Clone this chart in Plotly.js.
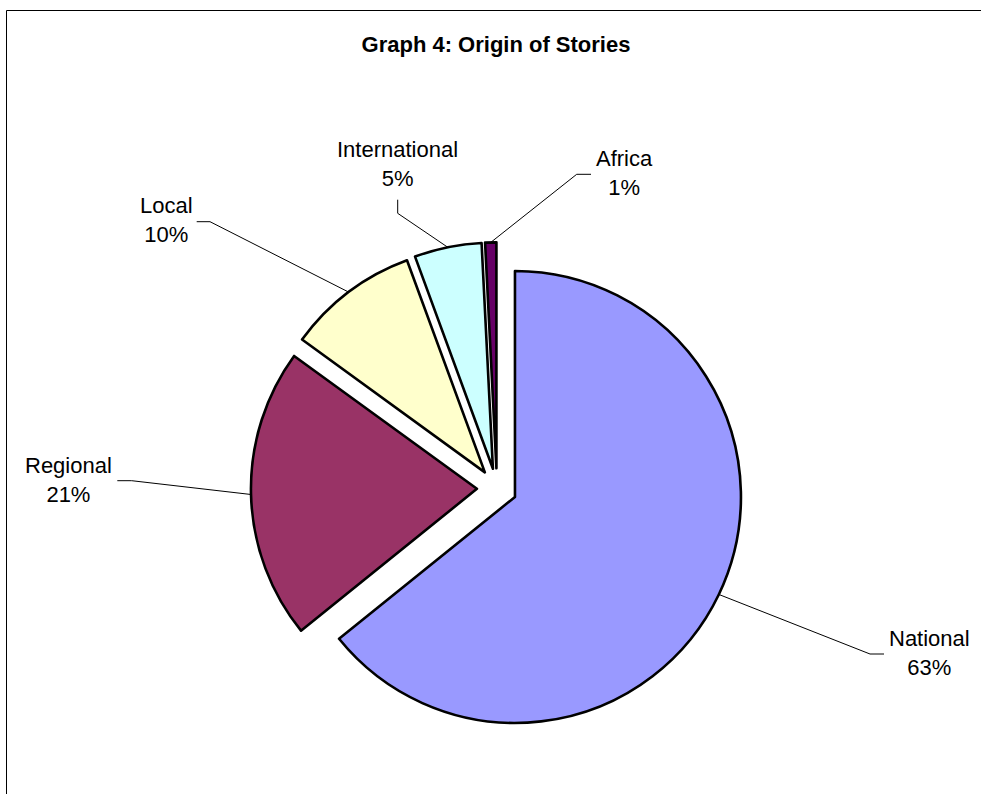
<!DOCTYPE html>
<html><head><meta charset="utf-8">
<script src="https://cdn.plot.ly/plotly-3.0.1.min.js"></script>
<style>html,body{margin:0;padding:0;background:#fff}#chart{width:981px;height:794px}</style>
</head><body><div id="chart"></div>
<script>
// ---- data ----
const categories = ['National', 'Regional', 'Local', 'International', 'Africa'];
const shares = [64.2, 20.8, 9.4, 4.8, 0.8];          // slice sizes as drawn
const shareLabels = ['63%', '21%', '10%', '5%', '1%']; // label text as printed
const colors = ['#9999FF', '#993366', '#FFFFCC', '#CCFFFF', '#660066'];

// ---- layout constants ----
const W = 981, H = 794;
const PULL = 0.0885;
const dom = {x: [0.2558, 0.7573], y: [0.0752, 0.6948]};
const FONT = 'Liberation Sans, Arial, sans-serif';
// label centres (px) and leader-line elbow/end points (px)
const labelPos = [[929, 653], [68, 480], [166, 220], [397, 164], [624, 173]];
const leaderTail = [
  [[870, 654], [884, 654]],
  [[131.7, 480.7], [117.3, 480.7]],
  [[210, 221.7], [196.7, 221.7]],
  [[397.7, 213.3], [397.7, 199.7]],
  [[576.7, 174.3], [591, 174.3]]
];

const px = x => x / W, py = y => 1 - y / H;

// geometry of the pie from its domain, to attach leader lines to slice middles
const cx = W * (dom.x[0] + dom.x[1]) / 2;
const cy = H * (1 - (dom.y[0] + dom.y[1]) / 2);
const Rout = Math.min(W * (dom.x[1] - dom.x[0]), H * (dom.y[1] - dom.y[0])) / 2; // r*(1+pull)
const total = shares.reduce((a, b) => a + b, 0);

const shapes = [{
  type: 'rect', xref: 'paper', yref: 'paper',
  x0: px(6.5), x1: 1.02, y0: py(10.5), y1: -0.02,
  line: {color: '#000', width: 1}, fillcolor: 'rgba(0,0,0,0)'
}];
const annotations = [];
let cum = 0;
categories.forEach((c, i) => {
  const mid = (cum + shares[i] / 2) / total * 2 * Math.PI;
  cum += shares[i];
  const ax = cx + Rout * Math.sin(mid), ay = cy - Rout * Math.cos(mid);
  const [e, t] = leaderTail[i];
  shapes.push({
    type: 'path', xref: 'paper', yref: 'paper',
    path: `M ${px(ax)} ${py(ay)} L ${px(e[0])} ${py(e[1])} L ${px(t[0])} ${py(t[1])}`,
    line: {color: '#000', width: 1}
  });
  annotations.push({
    xref: 'paper', yref: 'paper', x: px(labelPos[i][0]), y: py(labelPos[i][1]),
    xanchor: 'center', yanchor: 'middle', showarrow: false, align: 'center',
    text: c + '<br>' + shareLabels[i],
    font: {family: FONT, size: 22, color: '#000'}
  });
});

const trace = {
  type: 'pie', labels: categories, values: shares,
  sort: false, direction: 'clockwise', rotation: 0,
  pull: PULL, domain: dom,
  marker: {colors: colors, line: {color: '#000', width: 2.6}},
  textinfo: 'none', hoverinfo: 'none', showlegend: false
};

const layout = {
  width: W, height: H, margin: {l: 0, r: 0, t: 0, b: 0},
  paper_bgcolor: '#fff', plot_bgcolor: '#fff', showlegend: false,
  title: {
    text: '<b>Graph 4: Origin of Stories</b>',
    font: {family: FONT, size: 22, color: '#000'},
    xref: 'paper', yref: 'paper', x: 496 / W, y: py(44),
    xanchor: 'center', yanchor: 'middle'
  },
  shapes: shapes, annotations: annotations
};

Plotly.newPlot('chart', [trace], layout, {displayModeBar: false, staticPlot: true});
</script></body></html>
